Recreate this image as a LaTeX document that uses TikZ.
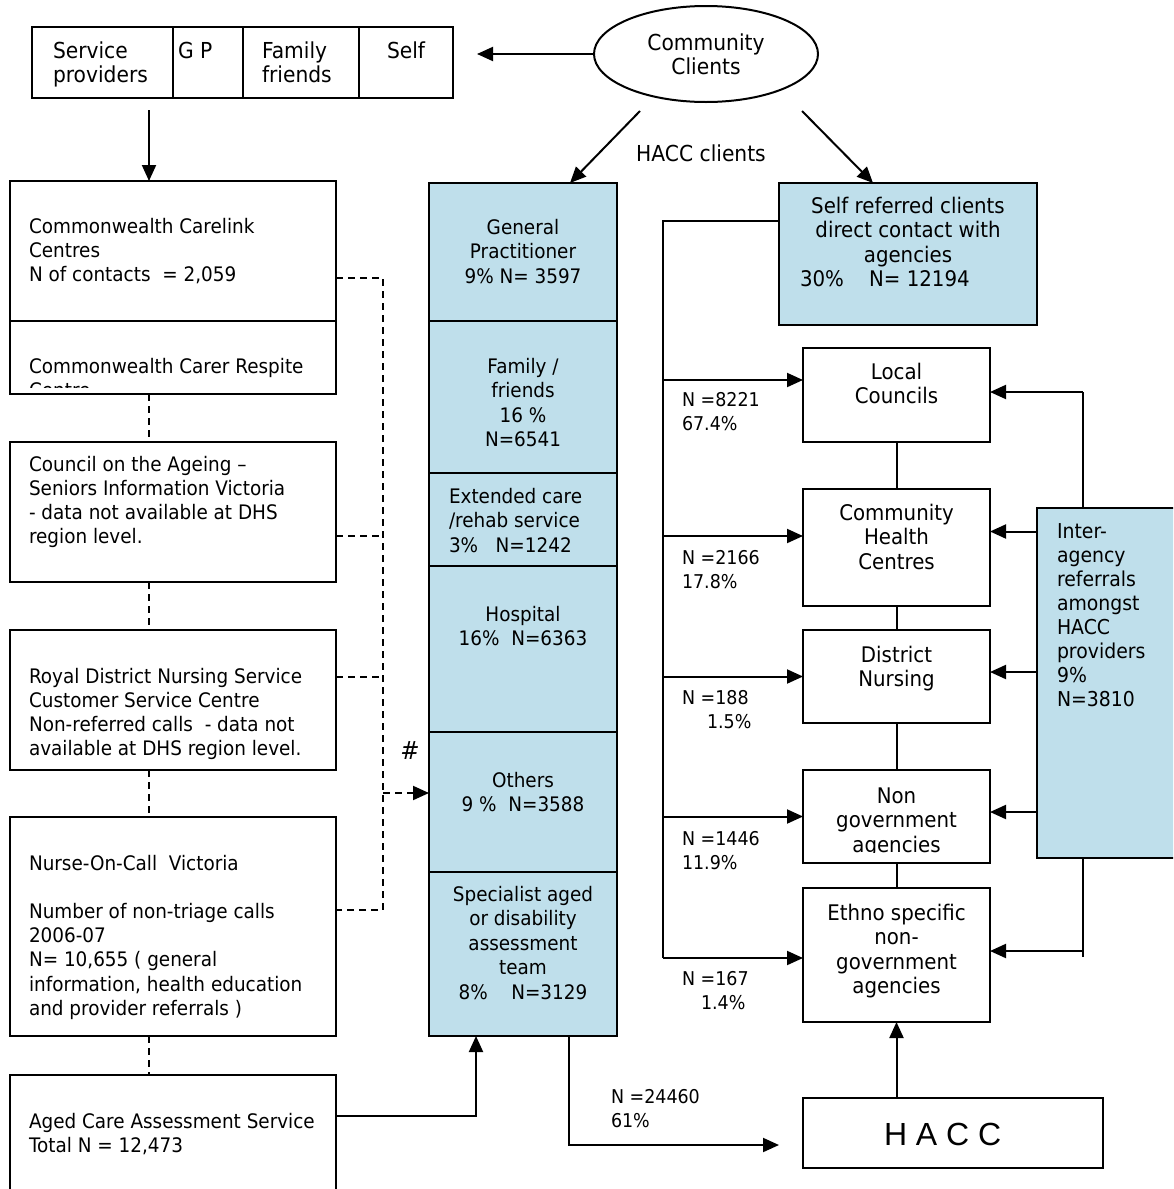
\documentclass[tikz,border=0pt]{standalone}
\usepackage{fontspec}
\setmainfont{DejaVu Sans}[FakeStretch=0.92]
\newfontfamily\haccfont{Liberation Sans}
\usetikzlibrary{arrows.meta,shapes.geometric}
\definecolor{cellblue}{HTML}{BFDFEB}
\newcommand\bt[4]{\begin{minipage}[t][#2pt][t]{#1pt}\vspace*{\dimexpr#3pt-\ht\strutbox\relax}#4\end{minipage}}
\newcommand\LT[1]{\raggedright\leftskip=#1pt\relax\strut}
\newcommand\CT{\centering\strut}
\tikzset{
  box/.style={draw, line width=2pt, inner sep=0pt, outer sep=0pt, anchor=north west},
  bluebox/.style={box, fill=cellblue},
  plain/.style={inner sep=0pt, outer sep=0pt, anchor=north west},
  ftop/.style={font=\fontsize{22}{24}\selectfont},
  fl/.style={font=\fontsize{20}{24.2}\selectfont},
  fm/.style={font=\fontsize{20}{24.5}\selectfont},
  fr/.style={font=\fontsize{21.5}{24.5}\selectfont},
  fi/.style={font=\fontsize{20.5}{24}\selectfont},
  flab/.style={font=\fontsize{19}{24.5}\selectfont},
  ln/.style={line width=2pt},
  arr/.style={line width=2pt, -{Triangle[length=16pt,width=14pt]}},
  dsh/.style={line width=2pt, dash pattern=on 7pt off 5pt},
}
\begin{document}
\begin{tikzpicture}[x=1pt,y=-1pt]
\clip (0,0) rectangle (1173,1189);
\fill[white] (0,0) rectangle (1173,1189);

% ---------- top row ----------
\node[box,ftop] (sp) at (32,27) {\bt{141}{71}{31}{\LT{21}Service\\providers}};
\node[box,ftop] (gp) at (173,27) {\bt{70}{71}{31}{\LT{5}G P}};
\node[box,ftop] (ff) at (243,27) {\bt{116}{71}{31}{\LT{19}Family\\friends}};
\node[box,ftop] (self) at (359,27) {\bt{94}{71}{31}{\LT{28}Self}};
\node[draw, ellipse, line width=2pt, minimum width=224pt, minimum height=96pt,
      inner sep=0pt, align=center, ftop] (cc) at (706,54) {Community\\Clients};
\coordinate (selftip) at (477,0);
\draw[arr] (cc.west) -- (cc.west -| selftip);

\coordinate (spdown) at (149,110);
\coordinate (ccL) at (640,111);
\coordinate (ccR) at (802,111);
\coordinate (gptip) at (570,183);
\coordinate (srtip) at (873,183);
\node[font=\fontsize{22}{24}\selectfont] (hlab) at (701,153) {HACC clients};

% ---------- left column ----------
\node[box,fl] (carelink) at (10,181) {\bt{326}{140}{52}{\LT{19}Commonwealth Carelink\\Centres\\N of contacts\ \ = 2,059}};
\node[box, minimum width=326pt, minimum height=73pt] (respite) at (10,321) {};
\begin{scope}
  \clip ([xshift=1pt]respite.north west) rectangle ([xshift=-1pt,yshift=7pt]respite.south east);
  \node[plain,fl] (respiteT) at (10,321) {\bt{326}{73}{52}{\LT{19}Commonwealth Carer Respite\\Centre}};
\end{scope}
\node[box,fl] (council) at (10,442) {\bt{326}{140}{29}{\LT{19}Council on the Ageing –\\Seniors Information Victoria\\- data not available at DHS\\region level.}};
\node[box,fl] (royal) at (10,630) {\bt{326}{140}{53}{\LT{19}Royal District Nursing Service\\Customer Service Centre\\Non-referred calls\ \ - data not\\available at DHS region level.}};
\node[box,fl] (nurse) at (10,817) {\bt{326}{219}{53}{\LT{19}Nurse-On-Call\ \ Victoria\\\mbox{}\\Number of non-triage calls\\2006-07\\N= 10,655 ( general\\information, health education\\and provider referrals )}};
\node[box,fl] (aged) at (10,1075) {\bt{326}{150}{53}{\LT{19}Aged Care Assessment Service\\Total N = 12,473}};

\coordinate (dx) at (149,0);
\draw[dsh] (respite.south -| dx) -- (council.north -| dx);
\draw[dsh] (council.south -| dx) -- (royal.north -| dx);
\draw[dsh] (royal.south -| dx) -- (nurse.north -| dx);
\draw[dsh] (nurse.south -| dx) -- (aged.north -| dx);

\coordinate (rx) at (383,0);
\coordinate (c1) at ([yshift=-27pt]carelink.east);
\coordinate (c2) at ([yshift=-24pt]council.east);
\coordinate (c3) at ([yshift=23pt]royal.east);
\coordinate (c4) at ([yshift=16.5pt]nurse.east);
\draw[dsh] (c1) -- (c1 -| rx) -- (c4 -| rx) -- (c4);
\draw[dsh] (c2) -- (c2 -| rx);
\draw[dsh] (c3) -- (c3 -| rx);
\node[font=\fontsize{25}{28}\selectfont\itshape] (hash) at (410,751) {\#};

\draw[arr] (spdown) -- (spdown |- carelink.north);

% ---------- middle blue column ----------
\node[bluebox,fm] (gpc) at (429,183) {\bt{188}{138}{51}{\CT General\\Practitioner\\9\% N= 3597}};
\node[bluebox,fm] (ffc) at (429,321) {\bt{188}{152}{52}{\CT Family /\\friends\\16 \%\\N=6541}};
\node[bluebox,fm] (ecc) at (429,473) {\bt{188}{93}{30}{\LT{20}Extended care\\/rehab service\\3\%\ \ \ N=1242}};
\node[bluebox,fm] (hoc) at (429,566) {\bt{188}{166}{55}{\CT Hospital\\16\%\ \ N=6363}};
\node[bluebox,fm] (otc) at (429,732) {\bt{188}{140}{55}{\CT Others\\9 \%\ \ N=3588}};
\node[bluebox,fm] (spc) at (429,872) {\bt{188}{164}{29}{\CT Specialist aged\\or disability\\assessment\\team\\8\%\ \ \ \ N=3129}};

\coordinate (c5) at ([yshift=9pt]otc.west);
\draw[dsh,-{Triangle[length=16pt,width=14pt]}] (c5 -| rx) -- (c5);

\draw[arr] (ccL) -- (gptip);
\draw[arr] (ccR) -- (srtip);

\coordinate (a1) at ([yshift=34pt]aged.east);
\coordinate (ax) at (476,0);
\draw[arr] (a1) -- (a1 -| ax) -- (spc.south -| ax);

\coordinate (ox) at (569,0);
\coordinate (otip) at (779,1145);
\draw[arr] (spc.south -| ox) -- (ox |- otip) -- (otip);
\node[plain,flab] (l24460) at (611,1083) {\bt{100}{55}{20}{\LT{0}N =24460\\61\%}};

% ---------- right side ----------
\node[bluebox,fr] (sr) at (779,183) {\bt{258}{142}{30}{{\CT Self referred clients\\direct contact with\\agencies\par}{\LT{21}30\%\ \ \ \ N= 12194\par}}};

\node[box,fr] (lc) at (803,348) {\bt{187}{94}{31}{\CT Local\\Councils}};
\node[box,fr] (chc) at (803,489) {\bt{187}{117}{31}{\CT Community\\Health\\Centres}};
\node[box,fr] (dn) at (803,630) {\bt{187}{93}{32}{\CT District\\Nursing}};
\node[box, minimum width=187pt, minimum height=93pt] (ng) at (803,770) {};
\begin{scope}
  \clip ([xshift=1pt]ng.north west) rectangle ([xshift=-1pt,yshift=11pt]ng.south east);
  \node[plain,fr] (ngT) at (803,770) {\bt{187}{93}{33}{\CT Non\\government\\agencies}};
\end{scope}
\node[box,fr] (eth) at (803,888) {\bt{187}{134}{32}{\CT Ethno specific\\non-\\government\\agencies}};

\node[box] (hacc) at (803,1098) {\haccfont\fontsize{32}{36}\selectfont\bt{300}{70}{47}{\LT{81}H A C C}};

\draw[ln] (lc.south) -- (chc.north);
\draw[ln] (chc.south) -- (dn.north);
\draw[ln] (dn.south) -- (ng.north);
\draw[ln] (ng.south) -- (eth.north);
\draw[arr] (eth.south |- hacc.north) -- (eth.south);

% self referred distribution
\coordinate (vx) at (663,0);
\coordinate (sr1) at ([yshift=33pt]sr.west);
\coordinate (e1) at ([yshift=15pt]lc.west);
\coordinate (e2) at ([yshift=11.5pt]chc.west);
\coordinate (e3) at (dn.west);
\coordinate (e4) at (ng.west);
\coordinate (e5) at ([yshift=-3pt]eth.west);
\draw[ln] (sr1) -- (sr1 -| vx) -- (vx |- e5);
\draw[arr] (vx |- e1) -- (e1);
\draw[arr] (vx |- e2) -- (e2);
\draw[arr] (vx |- e3) -- (e3);
\draw[arr] (vx |- e4) -- (e4);
\draw[arr] (vx |- e5) -- (e5);

\node[plain,flab] (l8221) at (682,386) {\bt{100}{55}{20}{\LT{0}N =8221\\67.4\%}};
\node[plain,flab] (l2166) at (682,544) {\bt{100}{55}{20}{\LT{0}N =2166\\17.8\%}};
\node[plain,flab] (l188) at (682,684) {\bt{100}{55}{20}{\LT{0}N =188\\\hspace*{25pt}1.5\%}};
\node[plain,flab] (l1446) at (682,825) {\bt{100}{55}{20}{\LT{0}N =1446\\11.9\%}};
\node[plain,flab] (l167) at (682,965) {\bt{100}{55}{20}{\LT{0}N =167\\\hspace*{19pt}1.4\%}};

% inter-agency referrals
\coordinate (ix) at (1083,0);
\coordinate (r1) at ([yshift=3pt]lc.east);
\coordinate (r2) at ([yshift=16pt]chc.east);
\coordinate (r3) at ([yshift=4.5pt]dn.east);
\coordinate (r4) at ([yshift=4.5pt]ng.east);
\coordinate (r5) at ([yshift=4pt]eth.east);
\draw[ln] (r1 -| ix) -- ([yshift=-6pt]r5 -| ix);
\draw[arr] (r1 -| ix) -- (r1);
\draw[arr] (r5 -| ix) -- (r5);
\node[bluebox,fi] (ia) at (1037,508) {\bt{160}{350}{30}{\LT{20}Inter-\\agency\\referrals\\amongst\\HACC\\providers\\9\%\\N=3810}};
\draw[arr] (ia.west |- r2) -- (r2);
\draw[arr] (ia.west |- r3) -- (r3);
\draw[arr] (ia.west |- r4) -- (r4);
\end{tikzpicture}
\end{document}
